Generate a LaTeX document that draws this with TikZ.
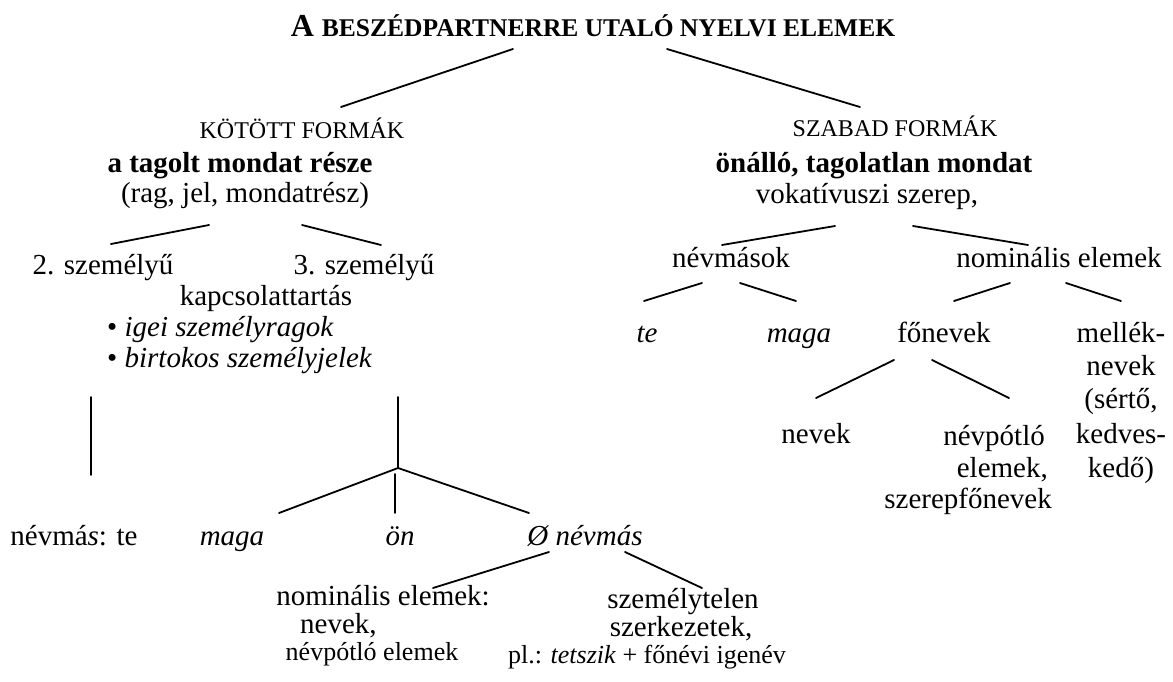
\documentclass[tikz,border=0pt]{standalone}
\usepackage{fontspec}
\setmainfont{Liberation Serif}
\begin{document}
\begin{tikzpicture}[x=1pt,y=-1pt,
  lbl/.style={anchor=base, inner sep=0pt, font=\fontsize{29}{31}\selectfont},
  capsl/.style={anchor=base, inner sep=0pt, font=\fontsize{24}{26}\selectfont},
  smalll/.style={anchor=base, inner sep=0pt, font=\fontsize{26}{28}\selectfont},
  branch/.style={line width=1.8pt, line cap=round}]
\useasboundingbox (0,0) rectangle (1173,682);

% ---- root ----
\node[anchor=base, inner sep=0pt] (title) at (593,37)
  {\bfseries\fontsize{32}{34}\selectfont A \fontsize{25.5}{34}\selectfont BESZÉDPARTNERRE UTALÓ NYELVI ELEMEK};
\coordinate (title-l) at (513,49);
\coordinate (title-r) at (667,49);

% ---- bound forms ----
\node[capsl] (kotott) at (302,139) {KÖTÖTT FORMÁK};
\node[lbl, font=\fontsize{29}{31}\selectfont\bfseries] (tagolt) at (240,173) {a tagolt mondat része};
\node[lbl] (rag) at (245,202) {(rag, jel, mondatrész)};
\coordinate (kotott-in) at (341,107);
\coordinate (rag-l) at (209,225);
\coordinate (rag-r) at (302,225);

\node[lbl] (szem2) at (103,274) {2. személyű};
\node[lbl] (szem3) at (364,274) {3. személyű};
\coordinate (szem2-in) at (111,244);
\coordinate (szem3-in) at (381,245);
\node[lbl] (kapcs) at (266,305) {kapcsolattartás};
\node[lbl, anchor=base west] (igei) at (107,336) {• \textit{igei személyragok}};
\node[lbl, anchor=base west] (birt) at (107,367) {• \textit{birtokos személyjelek}};

\coordinate (v1-top) at (91,397);
\coordinate (v1-bot) at (91,475);
\coordinate (v2-top) at (398,397);
\coordinate (junc) at (398,468);
\coordinate (maga1-in) at (279,513);
\coordinate (on-top) at (395,474);
\coordinate (on-in) at (395,513);
\coordinate (zero-in) at (529,513);

\node[lbl] (nevmaste) at (74,545) {névmá\textit{s}: te};
\node[lbl] (maga1) at (232,545) {\textit{maga}};
\node[lbl] (on) at (400,545) {\textit{ön}};
\node[lbl] (zero) at (585,545) {\textit{Ø névmás}};
\coordinate (zero-l) at (549,552);
\coordinate (zero-r) at (625,552);
\coordinate (nomb-in) at (433,588);
\coordinate (szemt-in) at (702,588);

\node[lbl] (nomb) at (383,605) {nominális elemek:};
\node[lbl, anchor=base west] (nomb2) at (300,633) {nevek,};
\node[smalll] (nomb3) at (372,660) {névpótló elemek};
\node[lbl] (szemt) at (683,608) {személytelen};
\node[lbl] (szemt2) at (681,636) {szerkezetek,};
\node[smalll] (szemt3) at (647,663) {pl.: \textit{tetszik} + főnévi igenév};

% ---- free forms ----
\node[capsl] (szabad) at (895,137) {SZABAD FORMÁK};
\node[lbl, font=\fontsize{29}{31}\selectfont\bfseries] (onallo) at (874,173) {önálló, tagolatlan mondat};
\node[lbl] (vok) at (867,203) {vokatívuszi szerep,};
\coordinate (szabad-in) at (860,107);
\coordinate (vok-l) at (835,226);
\coordinate (vok-r) at (913,226);

\node[lbl] (nevmasok) at (731,267) {névmások};
\node[lbl] (nomr) at (1059,267) {nominális elemek};
\coordinate (nevmasok-in) at (722,245);
\coordinate (nomr-in) at (1028,245);
\coordinate (nevmasok-l) at (702,283);
\coordinate (nevmasok-r) at (740,283);
\coordinate (nomr-l) at (1010,283);
\coordinate (nomr-r) at (1066,283);
\coordinate (te-in) at (644,301);
\coordinate (maga2-in) at (796,301);
\coordinate (fon-in) at (954,301);
\coordinate (mell-in) at (1121,301);

\node[lbl] (te) at (647,342) {\textit{te}};
\node[lbl] (maga2) at (799,342) {\textit{maga}};
\node[lbl] (fon) at (944,342) {főnevek};
\node[lbl] (mell) at (1121,342) {mellék-};
\node[lbl] (mell2) at (1121,375) {nevek};
\node[lbl] (mell3) at (1121,408) {(sértő,};
\node[lbl] (mell4) at (1121,443) {kedves-};
\node[lbl] (mell5) at (1121,477) {kedő)};

\coordinate (fon-l) at (894,360);
\coordinate (fon-r) at (932,360);
\coordinate (nevek-in) at (816,398);
\coordinate (npot-in) at (1009,398);
\node[lbl] (nevek) at (816,443) {nevek};
\node[lbl, anchor=base east] (npot) at (1045,445) {névpótló};
\node[lbl, anchor=base east] (npot2) at (1048,477) {elemek,};
\node[lbl, anchor=base east] (npot3) at (1052,508) {szerepfőnevek};

% ---- connectors ----
\draw[branch] (title-l) -- (kotott-in);
\draw[branch] (title-r) -- (szabad-in);
\draw[branch] (rag-l) -- (szem2-in);
\draw[branch] (rag-r) -- (szem3-in);
\draw[branch] (v1-top) -- (v1-bot);
\draw[branch] (v2-top) -- (junc);
\draw[branch] (junc) -- (maga1-in);
\draw[branch] (on-top) -- (on-in);
\draw[branch] (junc) -- (zero-in);
\draw[branch] (zero-l) -- (nomb-in);
\draw[branch] (zero-r) -- (szemt-in);
\draw[branch] (vok-l) -- (nevmasok-in);
\draw[branch] (vok-r) -- (nomr-in);
\draw[branch] (nevmasok-l) -- (te-in);
\draw[branch] (nevmasok-r) -- (maga2-in);
\draw[branch] (nomr-l) -- (fon-in);
\draw[branch] (nomr-r) -- (mell-in);
\draw[branch] (fon-l) -- (nevek-in);
\draw[branch] (fon-r) -- (npot-in);
\end{tikzpicture}
\end{document}
